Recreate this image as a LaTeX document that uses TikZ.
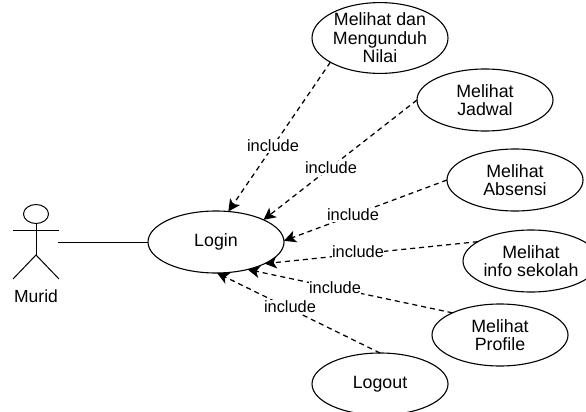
\documentclass[tikz,border=0pt]{standalone}
\usepackage{fontspec}
\setmainfont{Liberation Sans}
\usetikzlibrary{shapes.geometric,arrows.meta}
\tikzset{
  usecase/.style={draw=black,ellipse,minimum width=136pt,minimum height=62pt,inner sep=0pt,outer sep=0pt,line width=1.1pt,align=center,font=\fontsize{17.8}{18.5}\selectfont},
  inc/.style={draw=black,line width=1.25pt,dash pattern=on 5pt off 4pt,-{Stealth[length=12pt,width=12pt,inset=3pt]}},
  inclabel/.style={fill=white,inner sep=0.5pt,font=\fontsize{16.4}{18}\selectfont},
  stick/.style={draw=black,line width=1pt}
}
\begin{document}
\begin{tikzpicture}[x=1pt,y=-1pt]
\useasboundingbox (0,0) rectangle (586,412);
\node[usecase] (login) at (216,242) {Login};
\node[usecase] (nilai) at (380,38) {Melihat dan\\Mengunduh\\Nilai};
\node[usecase] (jadwal) at (485,100) {Melihat\\Jadwal};
\node[usecase] (absensi) at (515,180) {Melihat\\Absensi};
\node[usecase] (info) at (531,261) {Melihat\\info sekolah};
\node[usecase] (profile) at (500,335) {Melihat\\Profile};
\node[usecase] (logout) at (380,384) {Logout};
% actor
\node[draw=black,ellipse,line width=1pt,minimum width=25pt,minimum height=19pt,inner sep=0pt,outer sep=0pt] (head) at (36,214) {};
\coordinate (armL) at (13,230);
\coordinate (armR) at (59,230);
\coordinate (hip) at (36,255);
\coordinate (footL) at (13,279);
\coordinate (footR) at (59,279);
\coordinate (hand) at (58,242);
\draw[stick] (armL) -- (armR);
\draw[stick] (head.south) -- (hip);
\draw[stick] (footL) -- (hip) -- (footR);
\node[font=\fontsize{17.5}{18.5}\selectfont] (murid) at (36,296) {Murid};
\draw[stick] (hand) -- (login.west);
% include connectors
\draw[inc] (nilai.206) -- (login.68);
\draw[inc] (jadwal.180) -- (login.25);
\draw[inc] (absensi.180) -- (login.1);
\draw[inc] (info.160) -- (login.-24);
\draw[inc] (profile.155) -- (login.-41);
\draw[inc] (logout.90) -- (login.-88);
\node[inclabel] (l1) at (273,146) {include};
\node[inclabel] (l2) at (331,168) {include};
\node[inclabel] (l3) at (353,215) {include};
\node[inclabel] (l4) at (358,252) {include};
\node[inclabel] (l5) at (335,288) {include};
\node[inclabel] (l6) at (290,307) {include};
\end{tikzpicture}
\end{document}
